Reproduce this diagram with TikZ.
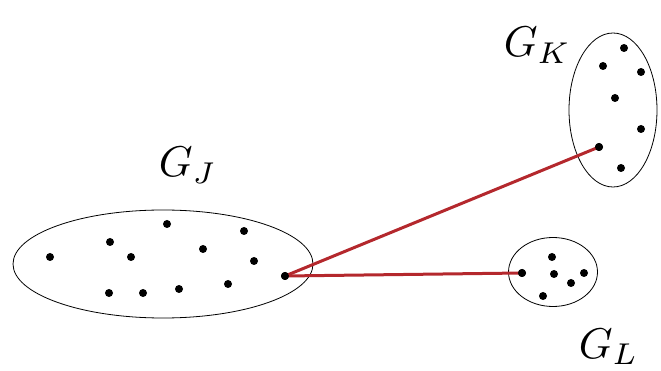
\documentclass[tikz,border=0pt]{standalone}
\usepackage{tikz}
\usetikzlibrary{shapes.geometric}

\begin{document}
\begin{tikzpicture}[x=1pt, y=-1pt,
		group/.style={ellipse, draw=black, line width=0.8pt, inner sep=0pt},
		vertex/.style={circle, fill=black, inner sep=0pt, minimum size=8pt},
		tag/.style={anchor=base west, inner sep=0pt, scale=4.3, transform shape},
		link/.style={draw={rgb,255:red,180;green,40;blue,45}, line width=3pt}
		]
		\useasboundingbox (0,0) rectangle (661,371);
		% the three groups
		\node [group, minimum width=300pt, minimum height=108pt] (GJ) at (163,264) {};
		\node [group, minimum width=88pt, minimum height=154pt] (GK) at (613,110) {};
		\node [group, minimum width=89pt, minimum height=69pt] (GL) at (553,272) {};
		
		\node [tag] (labelJ) at (158,177) {$G_J$};
		\node [tag] (labelK) at (503,57) {$G_K$};
		\node [tag] (labelL) at (578,358) {$G_L$};
		
		% vertices of G_J
		\node [vertex] (j1) at (50,257) {};
		\node [vertex] (j2) at (110,242) {};
		\node [vertex] (j3) at (131,257) {};
		\node [vertex] (j4) at (167,224) {};
		\node [vertex] (j5) at (203,249) {};
		\node [vertex] (j6) at (244,231) {};
		\node [vertex] (j7) at (254,261) {};
		\node [vertex] (j8) at (109,293) {};
		\node [vertex] (j9) at (143,293) {};
		\node [vertex] (j10) at (179,289) {};
		\node [vertex] (j11) at (228,284) {};
		\node [vertex] (j12) at (285,276) {};
		
		% vertices of G_K
		\node [vertex] (k1) at (624,48) {};
		\node [vertex] (k2) at (603,66) {};
		\node [vertex] (k3) at (641,72) {};
		\node [vertex] (k4) at (615,98) {};
		\node [vertex] (k5) at (641,129) {};
		\node [vertex] (k6) at (599,147) {};
		\node [vertex] (k7) at (621,168) {};
		
		% vertices of G_L
		\node [vertex] (l1) at (552,257) {};
		\node [vertex] (l2) at (522,273) {};
		\node [vertex] (l3) at (554,274) {};
		\node [vertex] (l4) at (571,283) {};
		\node [vertex] (l5) at (584,273) {};
		\node [vertex] (l6) at (543,296) {};
		
		\draw [link] (j12.center) -- (k6.center);
		\draw [link] (j12.center) -- (l2.center);
		\node [vertex] at (j12) {};
		\node [vertex] at (k6) {};
		\node [vertex] at (l2) {};
	\end{tikzpicture}
\end{document}
